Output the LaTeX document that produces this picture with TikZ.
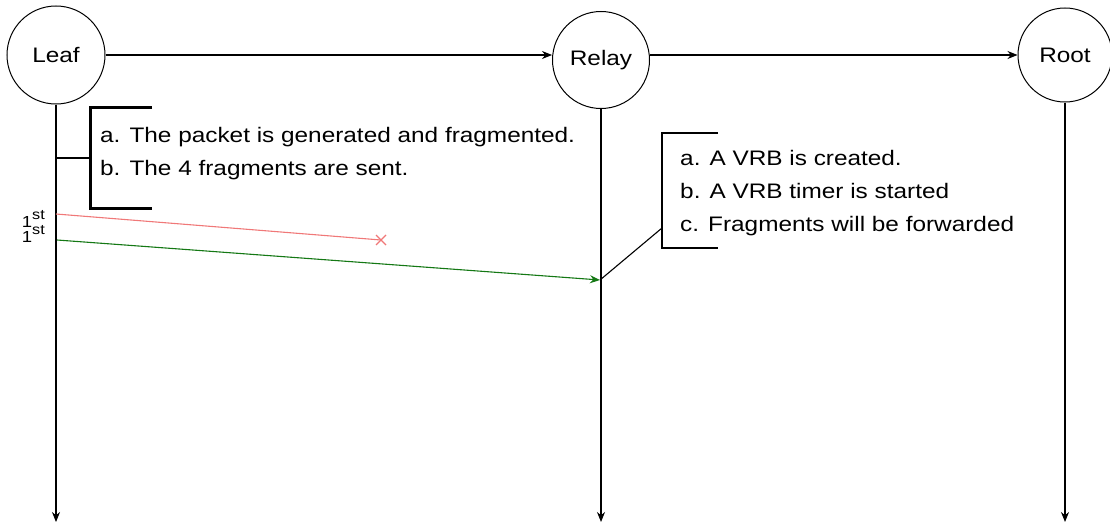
\documentclass[tikz,border=0pt]{standalone}
\usepackage{fontspec}
\setmainfont{Liberation Sans}[FakeStretch=1.16]
\usetikzlibrary{arrows.meta,calc}
\definecolor{lostred}{RGB}{240,120,120}
\definecolor{okgreen}{RGB}{20,120,20}
\newcommand{\ordsup}[1]{\raisebox{7.5pt}{\fontsize{14}{14}\selectfont #1}}
\tikzset{
  actor/.style={circle,draw,line width=1pt,inner sep=0pt,font=\fontsize{21}{24}\selectfont},
  msg/.style={line width=1.1pt,-{Stealth[length=10pt,width=8pt]}},
  note/.style={align=left,anchor=west,inner sep=0pt,font=\fontsize{21}{33}\selectfont},
  ord/.style={anchor=base east,inner sep=0pt,font=\fontsize{16}{16}\selectfont},
  thickbracket/.style={line width=3pt},
  thinbracket/.style={line width=1.8pt},
}
\begin{document}
\begin{tikzpicture}[x=1pt,y=-1pt]
  \useasboundingbox (0,0) rectangle (1110,527);

  % participants
  \node[actor,minimum size=98pt] (Leaf)  at (56,55)   {Leaf};
  \node[actor,minimum size=97pt] (Relay) at (601,60)  {Relay};
  \node[actor,minimum size=94pt] (Root)  at (1065,55) {Root};

  % lifeline ends
  \coordinate (LeafEnd)  at (56,522);
  \coordinate (RelayEnd) at (601,522);
  \coordinate (RootEnd)  at (1065,522);
  \draw[msg] (Leaf.south)  -- (LeafEnd);
  \draw[msg] (Relay.south) -- (RelayEnd);
  \draw[msg] (Root.south)  -- (RootEnd);

  % topology links
  \draw[msg] (Leaf.east) -- (Leaf.east -| Relay.west);
  \draw[msg] (Relay.east |- Root.west) -- (Root.west);

  % leaf note
  \coordinate (LeafTap) at (56,158);
  \coordinate (LeafBr)  at (90,158);
  \draw[thickbracket] (152,107) -- (90,107) -- (90,208) -- (152,208);
  \draw[line width=1.1pt] (LeafTap) -- (LeafBr);
  \node[note] (LeafNote) at (100,154) {a. The packet is generated and fragmented.\\b. The 4 fragments are sent.};

  % fragments
  \coordinate (LostStart) at (56,214);
  \coordinate (LostEnd)   at (381,240);
  \draw[lostred,line width=1.1pt] (LostStart) -- (LostEnd);
  \draw[lostred,line width=1.1pt] ($(LostEnd)+(-5,-5)$) -- ($(LostEnd)+(5,5)$)
                                   ($(LostEnd)+(-5,5)$) -- ($(LostEnd)+(5,-5)$);
  \coordinate (OkStart) at (57,240);
  \coordinate (OkEnd)   at (600,280);
  \draw[okgreen,msg] (OkStart) -- (OkEnd);
  \node[ord] (FirstA) at (45,227) {1\ordsup{st}};
  \node[ord] (FirstB) at (45,242) {1\ordsup{st}};

  % relay note
  \coordinate (RelayBr) at (662,228);
  \draw[thinbracket] (718,133) -- (662,133) -- (662,248) -- (718,248);
  \draw[line width=1.1pt] (OkEnd) -- (RelayBr);
  \node[note] (RelayNote) at (680,193) {a. A VRB is created.\\b. A VRB timer is started\\c. Fragments will be forwarded};
\end{tikzpicture}
\end{document}
